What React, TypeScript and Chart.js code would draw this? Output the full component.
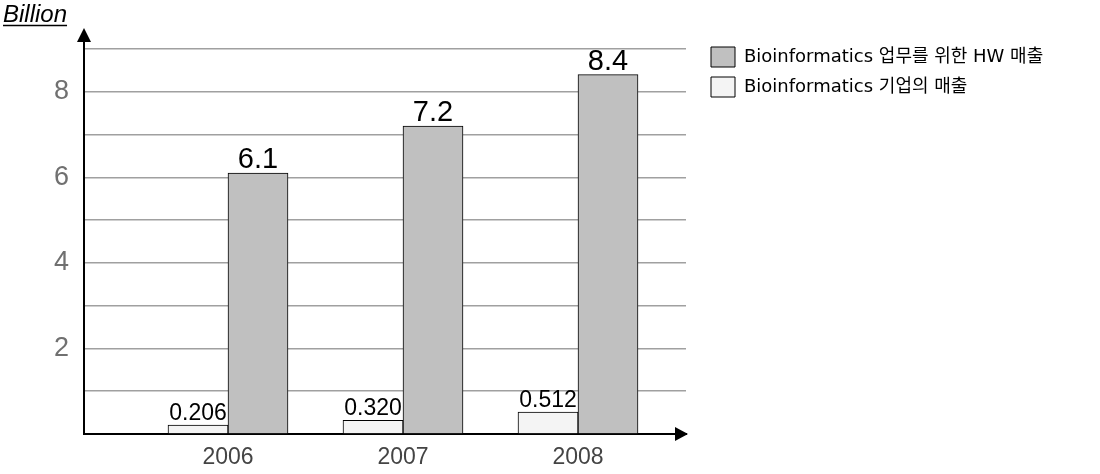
import React, { useEffect, useRef } from 'react';
import { Chart, registerables } from 'chart.js';

Chart.register(...registerables);

// ---- data ----
const years = ['2006', '2007', '2008'];
const companyRevenue = [0.206, 0.32, 0.512];
const hwRevenue = [6.1, 7.2, 8.4];
const companyLabels = ['0.206', '0.320', '0.512'];
const hwLabels = ['6.1', '7.2', '8.4'];
const yTickLabels = [2, 4, 6, 8];
const seriesHw = 'Bioinformatics 업무를 위한 HW 매출';
const seriesCompany = 'Bioinformatics 기업의 매출';
const unitLabel = 'Billion';

const NUM_FONT = '"Liberation Sans", Arial, sans-serif';
const LEGEND_FONT = '"DejaVu Sans", "Noto Sans CJK KR", sans-serif';

const W = 1100;
const H = 474;
const AREA_LEFT = 84;
const AREA_RIGHT = 686;
const AREA_TOP = 49;
const AREA_BOTTOM = 434;
const LEGEND_BOX_X = 711;

const decorPlugin = {
  id: 'decor',
  afterDraw(chart: any) {
    const { ctx, chartArea } = chart;
    ctx.save();
    ctx.strokeStyle = '#000';
    ctx.fillStyle = '#000';
    ctx.lineWidth = 2;
    // y axis arrow
    ctx.beginPath();
    ctx.moveTo(chartArea.left, chartArea.top);
    ctx.lineTo(chartArea.left, 40);
    ctx.stroke();
    ctx.beginPath();
    ctx.moveTo(chartArea.left, 28);
    ctx.lineTo(chartArea.left - 7, 42);
    ctx.lineTo(chartArea.left + 7, 42);
    ctx.closePath();
    ctx.fill();
    // x axis arrow
    ctx.beginPath();
    ctx.moveTo(chartArea.right + 2, chartArea.bottom);
    ctx.lineTo(chartArea.right - 11, chartArea.bottom - 7);
    ctx.lineTo(chartArea.right - 11, chartArea.bottom + 7);
    ctx.closePath();
    ctx.fill();
    // unit label
    ctx.font = `italic 24px ${NUM_FONT}`;
    ctx.textAlign = 'left';
    ctx.textBaseline = 'alphabetic';
    ctx.fillText(unitLabel, 3, 22);
    const w = ctx.measureText(unitLabel).width;
    ctx.lineWidth = 1.5;
    ctx.beginPath();
    ctx.moveTo(3, 25.5);
    ctx.lineTo(3 + w, 25.5);
    ctx.stroke();
    ctx.restore();
  },
  afterDatasetsDraw(chart: any) {
    const { ctx } = chart;
    const labelSets = [companyLabels, hwLabels];
    const sizes = [23, 29];
    ctx.save();
    ctx.fillStyle = '#000';
    ctx.textAlign = 'center';
    ctx.textBaseline = 'alphabetic';
    chart.data.datasets.forEach((_: any, di: number) => {
      const meta = chart.getDatasetMeta(di);
      ctx.font = `${sizes[di]}px ${NUM_FONT}`;
      meta.data.forEach((el: any, i: number) => {
        ctx.fillText(labelSets[di][i], el.x, el.y - 5);
      });
    });
    ctx.restore();
  },
};

export default function App() {
  const ref = useRef<HTMLCanvasElement | null>(null);

  useEffect(() => {
    const canvas = ref.current;
    if (!canvas) return;
    let chart: any = null;
    let cancelled = false;

    const build = () => {
      if (cancelled) return;
      const legendLeft = LEGEND_BOX_X - 10;
      const pxPerUnit = 175;
      const xMin = -(228 - AREA_LEFT) / pxPerUnit;
      const xMax = xMin + (AREA_RIGHT - AREA_LEFT) / pxPerUnit;

      chart = new Chart(canvas, {
        type: 'bar',
        data: {
          datasets: [
            {
              label: seriesCompany,
              data: companyRevenue.map((v, i) => ({ x: i, y: v })),
              backgroundColor: '#f4f4f4',
              borderColor: '#000',
              borderWidth: 1,
              barThickness: 60,
            },
            {
              label: seriesHw,
              data: hwRevenue.map((v, i) => ({ x: i, y: v })),
              backgroundColor: '#c0c0c0',
              borderColor: '#000',
              borderWidth: 1,
              barThickness: 60,
            },
          ],
        },
        options: {
          responsive: false,
          animation: false,
          layout: { padding: { left: 0, right: 0, top: 0, bottom: 0 } },
          scales: {
            x: {
              type: 'linear',
              position: 'bottom',
              offset: false,
              bounds: 'data',
              min: xMin,
              max: xMax,
              afterBuildTicks: (s: any) => {
                s.ticks = years.map((_, i) => ({ value: i }));
              },
              afterFit: (s: any) => {
                s.height = H - AREA_BOTTOM;
              },
              grid: { display: false, drawTicks: false, offset: false },
              border: { display: true, color: '#000', width: 2 },
              ticks: {
                autoSkip: false,
                maxRotation: 0,
                padding: 10,
                color: '#444',
                font: { family: NUM_FONT, size: 23 },
                callback: (v: any) => years[Math.round(Number(v))] ?? '',
              },
            },
            xTop: {
              type: 'linear',
              position: 'top',
              display: true,
              offset: false,
              grid: { display: false, drawTicks: false },
              border: { display: false },
              ticks: { display: false },
              afterFit: (s: any) => {
                s.height = AREA_TOP;
              },
            },
            y: {
              type: 'linear',
              position: 'left',
              min: 0,
              max: 9,
              afterFit: (s: any) => {
                s.width = AREA_LEFT;
              },
              grid: { color: '#a0a0a0', lineWidth: 1.5, drawTicks: false },
              border: { display: true, color: '#000', width: 2 },
              ticks: {
                stepSize: 1,
                autoSkip: false,
                padding: 15,
                color: '#707070',
                font: { family: NUM_FONT, size: 27 },
                callback: (v: any) => (yTickLabels.includes(Number(v)) ? String(v) : ''),
              },
            },
            yRight: {
              type: 'linear',
              position: 'right',
              display: true,
              grid: { display: false, drawTicks: false },
              border: { display: false },
              ticks: { display: false },
              afterFit: (s: any) => {
                s.width = legendLeft - AREA_RIGHT;
              },
            },
          },
          plugins: {
            legend: {
              position: 'right',
              align: 'start',
              reverse: true,
              maxWidth: 460,
              title: {
                display: true,
                text: '',
                padding: { top: 27, bottom: 0 },
                font: { size: 10, lineHeight: 1 },
              },
              labels: {
                boxWidth: 24,
                boxHeight: 20,
                padding: 10,
                color: '#000',
                font: { family: LEGEND_FONT, size: 18 },
              },
            },
            tooltip: { enabled: false },
            title: { display: false },
          },
        } as any,
        plugins: [decorPlugin],
      });

      // shift legend so its boxes start at LEGEND_BOX_X
      for (let k = 0; k < 4; k++) {
        const delta = legendLeft - chart.legend.left;
        if (Math.abs(delta) < 0.5) break;
        const pad = chart.options.layout.padding;
        pad.right = Math.max(0, (pad.right || 0) - delta);
        chart.update();
      }
    };

    const fontsApi: any = (document as any).fonts;
    if (fontsApi && fontsApi.load) {
      Promise.all([
        fontsApi.load('18px "Noto Sans CJK KR"', '업무를 위한 매출 기업의'),
        fontsApi.load('18px "DejaVu Sans"', 'Bioinformatics'),
        fontsApi.load('24px "Liberation Sans"', '0123456789'),
        fontsApi.load('italic 24px "Liberation Sans"', 'Billion'),
      ])
        .catch(() => null)
        .then(build);
    } else {
      build();
    }

    return () => {
      cancelled = true;
      if (chart) chart.destroy();
    };
  }, []);

  return (
    <div style={{ position: 'absolute', left: 0, top: 0, width: W, height: H, background: '#fff' }}>
      <canvas ref={ref} width={W} height={H} style={{ display: 'block' }} />
    </div>
  );
}
